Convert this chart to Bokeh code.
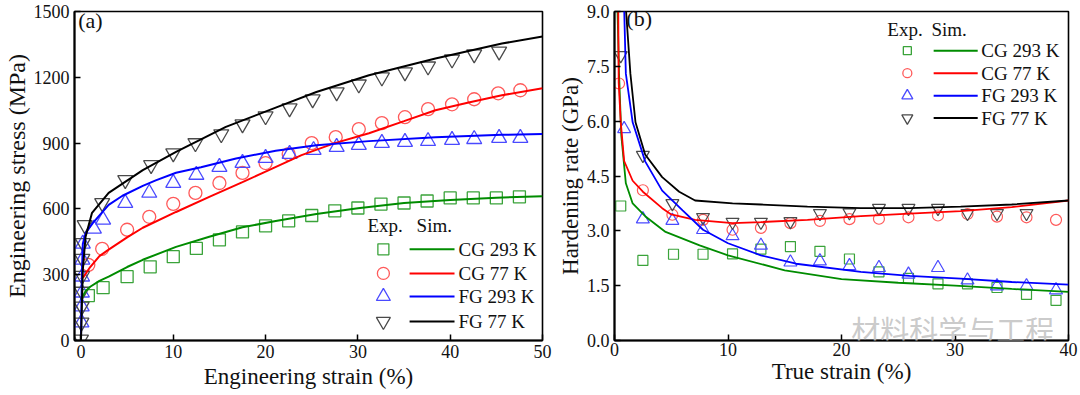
from bokeh.plotting import figure
from bokeh.layouts import row
from bokeh.models import Range1d, FixedTicker, Label, PrintfTickFormatter
from bokeh.embed import file_html
from bokeh.resources import INLINE

FONT = "Liberation Serif"
CJK = "Noto Sans CJK SC"

# ---------------- Panel (a): engineering stress-strain ----------------
a_series = ["CG 293 K", "CG 77 K", "FG 293 K", "FG 77 K"]

a_cg293_sim_x = [0, 0.5, 1, 2, 3, 5, 6.7, 10.3, 13.9, 17.5, 21.1, 25.5, 30, 35, 40, 45, 50]
a_cg293_sim_y = [186, 225, 245, 272, 291, 335, 368, 427, 473, 516, 545, 577, 603, 627, 641, 651, 658]
a_cg77_sim_x = [0, 0.3, 1, 2, 3, 5, 6.7, 10.3, 13.9, 17.5, 20, 23.9, 27.5, 31.2, 35, 38.4, 42, 45.6, 50]
a_cg77_sim_y = [280, 291, 335, 385, 414, 470, 514, 586, 655, 722, 770, 845, 900, 945, 1000, 1050, 1085, 1118, 1150]
a_fg293_sim_x = [0, 0.1, 0.2, 0.5, 1.3, 3, 4.5, 6.7, 8.1, 10.3, 13, 16.8, 21.1, 25.5, 31.2, 38.4, 45.6, 50]
a_fg293_sim_y = [0, 300, 440, 490, 536, 618, 660, 705, 730, 765, 790, 830, 865, 890, 909, 927, 938, 941]
a_fg77_sim_x = [0, 0.2, 0.5, 1.2, 3, 5.4, 6.7, 10.3, 15.7, 21.1, 25.5, 31.2, 38.4, 45.6, 50]
a_fg77_sim_y = [0, 323, 473, 582, 673, 740, 777, 860, 974, 1062, 1133, 1209, 1286, 1354, 1386]

a_cg293_exp_x = [0.8, 2.4, 5, 7.5, 10, 12.5, 15, 17.5, 20, 22.5, 25, 27.5, 30, 32.5, 35, 37.5, 40, 42.5, 45, 47.5]
a_cg293_exp_y = [205, 241, 291, 336, 382, 420, 459, 495, 523, 545, 570, 591, 604, 622, 627, 636, 650, 650, 650, 655]
a_cg77_exp_x = [0.8, 2.3, 5, 7.4, 10, 12.4, 15, 17.5, 20, 22.5, 25, 27.6, 30.1, 32.6, 35.1, 37.6, 40.2, 42.6, 45.2, 47.6]
a_cg77_exp_y = [345, 418, 505, 564, 623, 673, 718, 764, 809, 850, 900, 927, 964, 991, 1018, 1055, 1077, 1100, 1127, 1141]
a_fg293_exp_x = [0.05, 0.08, 0.1, 0.12, 0.15, 0.2, 1.4, 2.4, 4.8, 7.4, 10, 12.5, 15, 17.5, 20, 22.6, 25.2, 27.7,
                 30.1, 32.6, 35.1, 37.6, 40.2, 42.6, 45.3, 47.6]
a_fg293_exp_y = [82, 155, 218, 291, 368, 441, 509, 550, 627, 673, 718, 755, 791, 809, 832, 850, 868, 882,
                 891, 900, 905, 909, 914, 918, 923, 923]
a_fg77_exp_x = [0.0, 0.05, 0.08, 0.1, 0.12, 0.15, 0.2, 0.4, 2.3, 4.8, 7.6, 10, 12.4, 15.2, 17.5, 20, 22.6, 25.1,
                27.7, 30.1, 32.6, 35.1, 37.6, 40.2, 42.6, 45.3]
a_fg77_exp_y = [5, 82, 155, 223, 295, 373, 445, 527, 627, 732, 800, 854, 900, 941, 986, 1023, 1059, 1100,
                1132, 1168, 1200, 1223, 1250, 1282, 1305, 1318]

a_xticks = [0, 10, 20, 30, 40, 50]
a_yticks = [0, 300, 600, 900, 1200, 1500]

# ---------------- Panel (b): hardening rate ----------------
b_cg293_sim_x = [0.26, 0.4, 0.6, 1.0, 1.6, 2.7, 4.5, 7.5, 10, 15, 20, 25, 30, 35, 40]
b_cg293_sim_y = [9.1, 7.3, 5.6, 4.3, 3.75, 3.4, 2.97, 2.6, 2.33, 1.92, 1.68, 1.58, 1.5, 1.41, 1.33]
b_cg77_sim_x = [0.33, 0.37, 0.55, 0.85, 1.6, 2.5, 4.2, 5, 7.1, 10.4, 12.9, 17, 21.7, 26, 30.5, 35, 40]
b_cg77_sim_y = [9.1, 7.05, 5.97, 4.91, 4.37, 4.07, 3.62, 3.45, 3.3, 3.21, 3.24, 3.3, 3.4, 3.47, 3.54, 3.65, 3.83]
b_fg293_sim_x = [0.85, 1.0, 1.6, 2.7, 4.2, 6, 7.8, 10, 12.9, 16, 21.7, 26, 30.5, 35, 40]
b_fg293_sim_y = [9.1, 7.3, 5.97, 4.9, 4.1, 3.56, 3.03, 2.66, 2.33, 2.1, 1.88, 1.77, 1.69, 1.6, 1.53]
b_fg77_sim_x = [1.0, 1.4, 1.85, 2.7, 4.2, 5.7, 7.1, 10.4, 12.9, 17, 21.7, 26, 30.5, 35, 40]
b_fg77_sim_y = [9.1, 7.3, 5.97, 5.09, 4.47, 4.07, 3.83, 3.75, 3.72, 3.66, 3.62, 3.62, 3.66, 3.72, 3.83]

b_cg293_exp_x = [0.55, 2.5, 5.2, 7.8, 10.4, 12.9, 15.5, 18.1, 20.7, 23.3, 25.9, 28.5, 31.1, 33.7, 36.3, 38.9]
b_cg293_exp_y = [3.68, 2.19, 2.36, 2.36, 2.37, 2.5, 2.57, 2.44, 2.23, 1.88, 1.7, 1.55, 1.55, 1.45, 1.26, 1.1]
b_cg77_exp_x = [0.4, 2.5, 5.1, 7.8, 10.4, 12.9, 15.5, 18.1, 20.7, 23.3, 25.9, 28.5, 31.1, 33.7, 36.3, 38.9]
b_cg77_exp_y = [7.03, 4.11, 3.44, 3.3, 3.03, 3.08, 3.21, 3.27, 3.32, 3.33, 3.37, 3.42, 3.46, 3.39, 3.37, 3.3]
b_fg293_exp_x = [0.85, 2.5, 5.1, 7.8, 10.4, 12.9, 15.5, 18.1, 20.7, 23.3, 25.9, 28.5, 31.1, 33.7, 36.3, 38.9]
b_fg293_exp_y = [5.79, 3.32, 3.28, 3.03, 2.86, 2.6, 2.14, 2.17, 2.04, 1.99, 1.81, 1.99, 1.65, 1.49, 1.49, 1.38]
b_fg77_exp_x = [0.55, 2.5, 5.1, 7.8, 10.4, 12.9, 15.5, 18.1, 20.7, 23.3, 25.9, 28.5, 31.1, 33.7, 36.3]
b_fg77_exp_y = [7.8, 5.07, 3.75, 3.37, 3.24, 3.24, 3.26, 3.48, 3.5, 3.62, 3.62, 3.62, 3.48, 3.48, 3.48]

b_xticks = [0, 10, 20, 30, 40]
b_yticks = [0, 1.5, 3.0, 4.5, 6.0, 7.5, 9.0]

LINE_COLORS = ["#008c00", "#ff0000", "#0000ff", "#000000"]
MARK_COLORS = ["#3aa33a", "#ff5a5a", "#4a4aff", "#4a4a4a"]
MARKERS = ["square", "circle", "triangle", "inverted_triangle"]


def style(p, xlabel, ylabel, xticks, yticks, xtitle_size, ytitle_size, yfmt=None):
    p.xgrid.visible = False
    p.ygrid.visible = False
    p.outline_line_color = "black"
    p.outline_line_width = 1.6
    p.background_fill_color = "white"
    p.border_fill_color = "white"
    for ax in (p.xaxis[0], p.yaxis[0]):
        ax.axis_line_width = 2
        ax.axis_line_color = "black"
        ax.major_tick_in = 6
        ax.major_tick_out = 0
        ax.major_tick_line_width = 1.5
        ax.minor_tick_in = 0
        ax.minor_tick_out = 0
        ax.major_label_text_font = FONT
        ax.major_label_text_font_size = "18px"
        ax.major_label_text_color = "#111111"
        ax.axis_label_text_font = FONT
        ax.axis_label_text_font_style = "normal"
        ax.axis_label_text_color = "#111111"
        ax.major_label_standoff = 4
        ax.axis_label_standoff = 3
    p.xaxis[0].axis_label_text_font_size = xtitle_size
    p.yaxis[0].axis_label_text_font_size = ytitle_size
    p.yaxis[0].major_label_standoff = 5
    p.yaxis[0].axis_label_standoff = 1
    p.xaxis[0].axis_label = xlabel
    p.yaxis[0].axis_label = ylabel
    p.xaxis[0].ticker = FixedTicker(ticks=xticks)
    p.yaxis[0].ticker = FixedTicker(ticks=yticks)
    if yfmt:
        p.yaxis[0].formatter = PrintfTickFormatter(format=yfmt)


def frac(p, fx, fy):
    xr, yr = p.x_range, p.y_range
    return xr.start + fx * (xr.end - xr.start), yr.start + fy * (yr.end - yr.start)


def legend(p, fx_exp, fx_sim, fy_head, fx_mark, fx_l0, fx_l1, fx_txt, fys, msizes):
    for txt, fx in (("Exp.", fx_exp), ("Sim.", fx_sim)):
        x, y = frac(p, fx, fy_head)
        p.add_layout(Label(x=x, y=y, text=txt, text_font=FONT, text_font_size="19px",
                           text_color="#111111", text_baseline="middle", text_align="left"))
    for i, fy in enumerate(fys):
        xm, ym = frac(p, fx_mark, fy)
        x0, _ = frac(p, fx_l0, fy)
        x1, _ = frac(p, fx_l1, fy)
        xt, _ = frac(p, fx_txt, fy)
        p.scatter([xm], [ym], marker=MARKERS[i], size=msizes[i], fill_color=None,
                  line_color=MARK_COLORS[i], line_width=1.3)
        p.line([x0, x1], [ym, ym], line_color=LINE_COLORS[i], line_width=2)
        p.add_layout(Label(x=xt, y=ym, text=a_series[i], text_font=FONT, text_font_size="19px",
                           text_color="#111111", text_baseline="middle", text_align="left"))


# ---------- figure (a) ----------
pa = figure(width=552, height=395, x_range=Range1d(-0.7, 50), y_range=Range1d(0, 1500),
            output_backend="svg", toolbar_location=None,
            min_border_left=74, min_border_right=10, min_border_top=11, min_border_bottom=55)
style(pa, "Engineering strain (%)", "Engineering stress (MPa)", a_xticks, a_yticks, "23px", "24px")

a_exp = [(a_cg293_exp_x, a_cg293_exp_y), (a_cg77_exp_x, a_cg77_exp_y),
         (a_fg293_exp_x, a_fg293_exp_y), (a_fg77_exp_x, a_fg77_exp_y)]
a_sim = [(a_cg293_sim_x, a_cg293_sim_y), (a_cg77_sim_x, a_cg77_sim_y),
         (a_fg293_sim_x, a_fg293_sim_y), (a_fg77_sim_x, a_fg77_sim_y)]
a_sizes = [12, 13, 15, 15]
for i in range(4):
    xs, ys = a_exp[i]
    pa.scatter(xs, ys, marker=MARKERS[i], size=a_sizes[i], fill_color=None,
               line_color=MARK_COLORS[i], line_width=1.3)
for i in range(4):
    xs, ys = a_sim[i]
    pa.line(xs, ys, line_color=LINE_COLORS[i], line_width=2)

legend(pa, 0.626, 0.731, 0.35, 0.660, 0.716, 0.812, 0.8205,
       [0.277, 0.204, 0.134, 0.058], [11, 12, 14, 14])
x, y = frac(pa, 0.008, 0.972)
pa.add_layout(Label(x=x, y=y, text="(a)", text_font=FONT, text_font_size="22px",
                    text_color="#111111", text_baseline="middle", text_align="left"))

# ---------- figure (b) ----------
pb = figure(width=528, height=395, x_range=Range1d(0, 40), y_range=Range1d(0, 9),
            output_backend="svg", toolbar_location=None,
            min_border_left=62, min_border_right=12, min_border_top=9, min_border_bottom=50)
style(pb, "True strain (%)", "Hardening rate (GPa)", b_xticks, b_yticks, "23px", "23px", yfmt="%.1f")
pb.xaxis[0].major_label_standoff = 2
pb.xaxis[0].axis_label_standoff = 0

b_exp = [(b_cg293_exp_x, b_cg293_exp_y), (b_cg77_exp_x, b_cg77_exp_y),
         (b_fg293_exp_x, b_fg293_exp_y), (b_fg77_exp_x, b_fg77_exp_y)]
b_sim = [(b_cg293_sim_x, b_cg293_sim_y), (b_cg77_sim_x, b_cg77_sim_y),
         (b_fg293_sim_x, b_fg293_sim_y), (b_fg77_sim_x, b_fg77_sim_y)]
b_sizes = [10, 11, 13, 13]
for i in range(4):
    xs, ys = b_exp[i]
    pb.scatter(xs, ys, marker=MARKERS[i], size=b_sizes[i], fill_color=None,
               line_color=MARK_COLORS[i], line_width=1.2)
for i in range(4):
    xs, ys = b_sim[i]
    pb.line(xs, ys, line_color=LINE_COLORS[i], line_width=1.8)

legend(pb, 0.601, 0.698, 0.946, 0.645, 0.703, 0.800, 0.808,
       [0.881, 0.8125, 0.744, 0.676], [8, 9, 11, 11])
x, y = frac(pb, 0.026, 0.979)
pb.add_layout(Label(x=x, y=y, text="(b)", text_font=FONT, text_font_size="22px",
                    text_color="#111111", text_baseline="middle", text_align="left"))

# watermark (kept inside the plot frame, which clips annotations)
x, y = frac(pb, 0.745, 0.036)
pb.add_layout(Label(x=x, y=y, text="材料科学与工程", text_font=CJK, text_font_size="29px",
                    text_color="#c4c4c4", text_alpha=0.9, text_baseline="middle",
                    text_align="center", level="overlay"))

layout = row(pa, pb)
open("out.html", "w").write(file_html(layout, INLINE))
